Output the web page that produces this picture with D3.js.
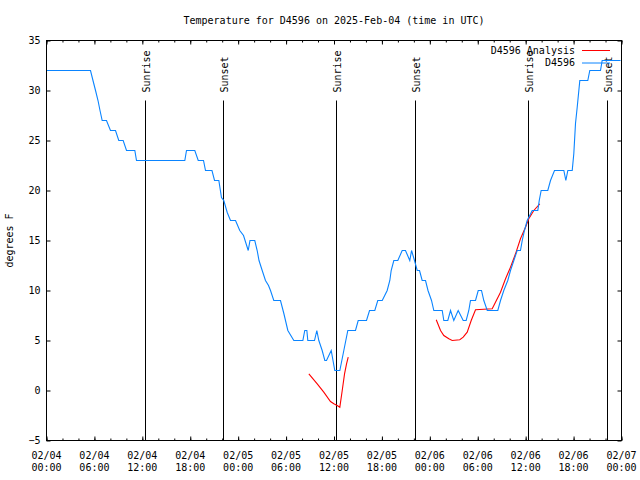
<!DOCTYPE html>
<html>
<head>
<meta charset="utf-8">
<script src="https://cdn.jsdelivr.net/npm/d3@7"></script>
<style>
  body { margin: 0; background: #fff; }
  text { font-family: "DejaVu Sans Mono", monospace; font-size: 10px; fill: #000; }
</style>
</head>
<body>
<div id="chart"></div>
<script>
// observation times (hours after 2025-02-04 00:00 UTC) and temperatures (F)
var obsHours = [0, 5.51, 5.82, 6.14, 6.45, 6.70, 6.97, 7.51, 8.01, 8.64, 9.05, 9.60, 10.02, 11.06, 11.27,
  17.32, 17.53, 18.57, 19.0, 19.66, 19.91, 20.72, 21.04, 21.58, 21.91, 22.2, 22.63, 23.04, 23.67, 24.2,
  24.67, 25.26, 25.48, 26.08, 26.38, 26.61, 27.01, 27.42, 27.8, 28.05, 28.46, 29.3, 29.72, 30.22, 30.97,
  32.1, 32.34, 32.6, 32.72, 33.56, 33.85, 34.1, 34.52, 34.85, 35.06, 35.65, 36.1, 36.73, 37.23, 37.73,
  38.69, 39.03, 40.07, 40.45, 41.11, 41.48, 42.04, 42.35, 42.66, 42.99, 43.16, 43.49, 43.99, 44.54, 44.95,
  45.49, 45.71, 46.08, 46.42, 46.71, 47.04, 47.46, 47.77, 48.21, 48.5, 49.55, 49.75, 50.25, 50.59, 51.0,
  51.55, 52.18, 52.55, 52.88, 53.09, 53.72, 54.06, 54.47, 54.76, 55.19, 56.51, 56.85, 57.26, 57.76, 58.1,
  58.52, 58.94, 59.35, 59.57, 59.85, 60.19, 60.82, 61.52, 61.7, 61.94, 62.77, 63.11, 63.61, 64.78, 65.03,
  65.28, 65.83, 66.03, 66.24, 66.45, 66.78, 67.78, 68.03, 69.37, 69.58, 71.88];
var obsTemps = [32, 32, 31, 30, 29, 28, 27, 27, 26, 26, 25, 25, 24, 24, 23,
  23, 24, 24, 23, 23, 22, 22, 21, 21, 19.3, 19, 17.8, 17, 17, 16,
  15.5, 14, 15, 15, 14, 13, 12, 11, 10.5, 10, 9, 9, 7.7, 6, 5,
  5, 6, 6, 5, 5, 6, 5, 4, 3, 3, 4, 2, 2, 4, 6,
  6, 7, 7, 8, 8, 9, 9, 9.5, 10, 11, 12, 13, 13, 14, 14,
  13, 14, 13, 12, 12, 11, 11, 10, 9, 8, 8, 7, 7, 8, 7,
  8, 7, 7, 8, 9, 9, 10, 10, 9, 8, 8, 9, 10, 11, 12,
  13, 14, 14, 15, 16, 17, 18, 18, 19, 20, 20, 21, 22, 22, 21,
  22, 22, 23.7, 26.7, 28.3, 31, 31, 32, 32, 33, 33];

// analysis series (null = gap)
var anHours = [32.85, 33.9, 34.72, 35.56, 35.98, 36.4, 36.73, 37.03, 37.32, 37.57, 37.78, 43,
  48.8, 49.34, 49.75, 50.38, 50.8, 51.75, 52.18, 52.68, 53.18, 53.72, 55.81, 56.22, 56.85, 57.48,
  58.1, 58.73, 59.35, 59.98, 60.39, 61.02, 61.77];
var anTemps = [1.67, 0.67, -0.17, -1.1, -1.33, -1.5, -1.67, 0, 1.67, 2.67, 3.33, null,
  7.07, 6, 5.5, 5.17, 5, 5.07, 5.33, 5.83, 7, 8.07, 8.17, 8.83, 9.83, 11.17,
  12.33, 13.67, 15.17, 16.33, 17.17, 18, 18.67];

var sunLabels = ["Sunrise", "Sunset", "Sunrise", "Sunset", "Sunrise", "Sunset"];
var sunHours = [12.43, 22.2, 36.35, 46.24, 60.39, 70.28];

var yTicks = [-5, 0, 5, 10, 15, 20, 25, 30, 35];
var seriesNames = ["D4596 Analysis", "D4596"];
var seriesColors = ["#ff0000", "#0a84ff"];

var svgWidth = 640, svgHeight = 480;
var margin = {top: 40, right: 19, bottom: 40, left: 46};
var x0 = margin.left + 0.5, x1 = svgWidth - margin.right + 0.5;
var yTop = margin.top + 0.5, yBot = svgHeight - margin.bottom + 0.5;

var start = Date.UTC(2025, 1, 4);
function toDate(h) { return new Date(start + h * 3600e3); }

var svg = d3.select("#chart").append("svg")
  .attr("width", svgWidth)
  .attr("height", svgHeight);

var xScale = d3.scaleUtc()
  .domain([new Date(start), new Date(start + 72 * 3600e3)])
  .range([x0, x1]);
var yScale = d3.scaleLinear().domain([-5, 35]).range([yBot, yTop]);

var majorX = d3.utcHour.every(6).range(new Date(start), new Date(start + 72 * 3600e3 + 1));
var minorX = d3.utcHour.every(2).range(new Date(start), new Date(start + 72 * 3600e3 + 1));

// x axis ticks, bottom and mirrored on top (inward)
[[yBot, -4, -2], [yTop, 4, 2]].forEach(function(a) {
  svg.append("g").attr("transform", `translate(0,${a[0]})`)
    .call(d3.axisBottom(xScale).tickValues(minorX).tickSize(a[2]).tickSizeOuter(0).tickFormat(""))
    .call(g => g.select(".domain").remove());
  svg.append("g").attr("transform", `translate(0,${a[0]})`)
    .call(d3.axisBottom(xScale).tickValues(majorX).tickSize(a[1]).tickSizeOuter(0).tickFormat(""))
    .call(g => g.select(".domain").remove());
});

// y axis left with labels, right mirrored
svg.append("g").attr("transform", `translate(${x0},0)`)
  .call(d3.axisLeft(yScale).tickValues(yTicks).tickSize(-4).tickSizeOuter(0).tickPadding(6))
  .call(g => g.select(".domain").remove())
  .call(g => g.selectAll("text").attr("font-size", null).attr("font-family", null));
svg.append("g").attr("transform", `translate(${x1},0)`)
  .call(d3.axisLeft(yScale).tickValues(yTicks).tickSize(4).tickSizeOuter(0).tickFormat(""))
  .call(g => g.select(".domain").remove());

// x tick labels on two lines
var fmtDay = d3.utcFormat("%m/%d"), fmtTime = d3.utcFormat("%H:%M");
var xLab = svg.append("g").selectAll("text")
  .data(majorX)
  .enter()
  .append("text")
  .attr("text-anchor", "middle");
xLab.append("tspan").attr("x", d => xScale(d)).attr("y", yBot + 18).text(d => fmtDay(d));
xLab.append("tspan").attr("x", d => xScale(d)).attr("y", yBot + 30.5).text(d => fmtTime(d));

// sunrise / sunset markers
var sunG = svg.append("g");
sunG.selectAll("line")
  .data(sunHours)
  .enter()
  .append("line")
  .attr("x1", d => Math.round(xScale(toDate(d)) - 0.5) + 0.5)
  .attr("x2", d => Math.round(xScale(toDate(d)) - 0.5) + 0.5)
  .attr("y1", yBot)
  .attr("y2", yTop + 60)
  .attr("stroke", "#000")
  .attr("stroke-width", 1);
sunG.selectAll("text")
  .data(sunHours)
  .enter()
  .append("text")
  .attr("transform", d => `translate(${xScale(toDate(d)) + 4.5}, ${yTop + 52}) rotate(-90)`)
  .attr("text-anchor", "start")
  .text((d, i) => sunLabels[i]);

// data lines
var line = d3.line()
  .defined(d => d.v != null)
  .x(d => xScale(toDate(d.h)))
  .y(d => yScale(d.v));

var obsData = obsHours.map((h, i) => ({h: h, v: obsTemps[i]}));
var anData = anHours.map((h, i) => ({h: h, v: anTemps[i]}));

svg.append("path").datum(anData)
  .attr("d", line)
  .attr("fill", "none")
  .attr("stroke", seriesColors[0])
  .attr("stroke-width", 1.1);

svg.append("path").datum(obsData)
  .attr("d", line)
  .attr("fill", "none")
  .attr("stroke", seriesColors[1])
  .attr("stroke-width", 1.1);

// frame
svg.append("rect")
  .attr("x", x0).attr("y", yTop)
  .attr("width", x1 - x0).attr("height", yBot - yTop)
  .attr("fill", "none")
  .attr("stroke", "#000")
  .attr("shape-rendering", "crispEdges");

// legend
var legend = svg.append("g").selectAll("g")
  .data(seriesNames)
  .enter()
  .append("g")
  .attr("transform", (d, i) => `translate(0, ${50 + i * 12.5})`);
legend.append("text")
  .attr("x", 575)
  .attr("y", 0)
  .attr("dy", "0.35em")
  .attr("text-anchor", "end")
  .text(d => d);
legend.append("line")
  .attr("x1", 582).attr("x2", 610)
  .attr("y1", 0.5).attr("y2", 0.5)
  .attr("stroke", (d, i) => seriesColors[i]);

// title and y label
svg.append("text")
  .attr("x", (x0 + x1) / 2)
  .attr("y", 24)
  .attr("text-anchor", "middle")
  .text("Temperature for D4596 on 2025-Feb-04 (time in UTC)");

svg.append("text")
  .attr("transform", `translate(13, ${(yTop + yBot) / 2}) rotate(-90)`)
  .attr("text-anchor", "middle")
  .text("degrees F");
</script>
</body>
</html>
